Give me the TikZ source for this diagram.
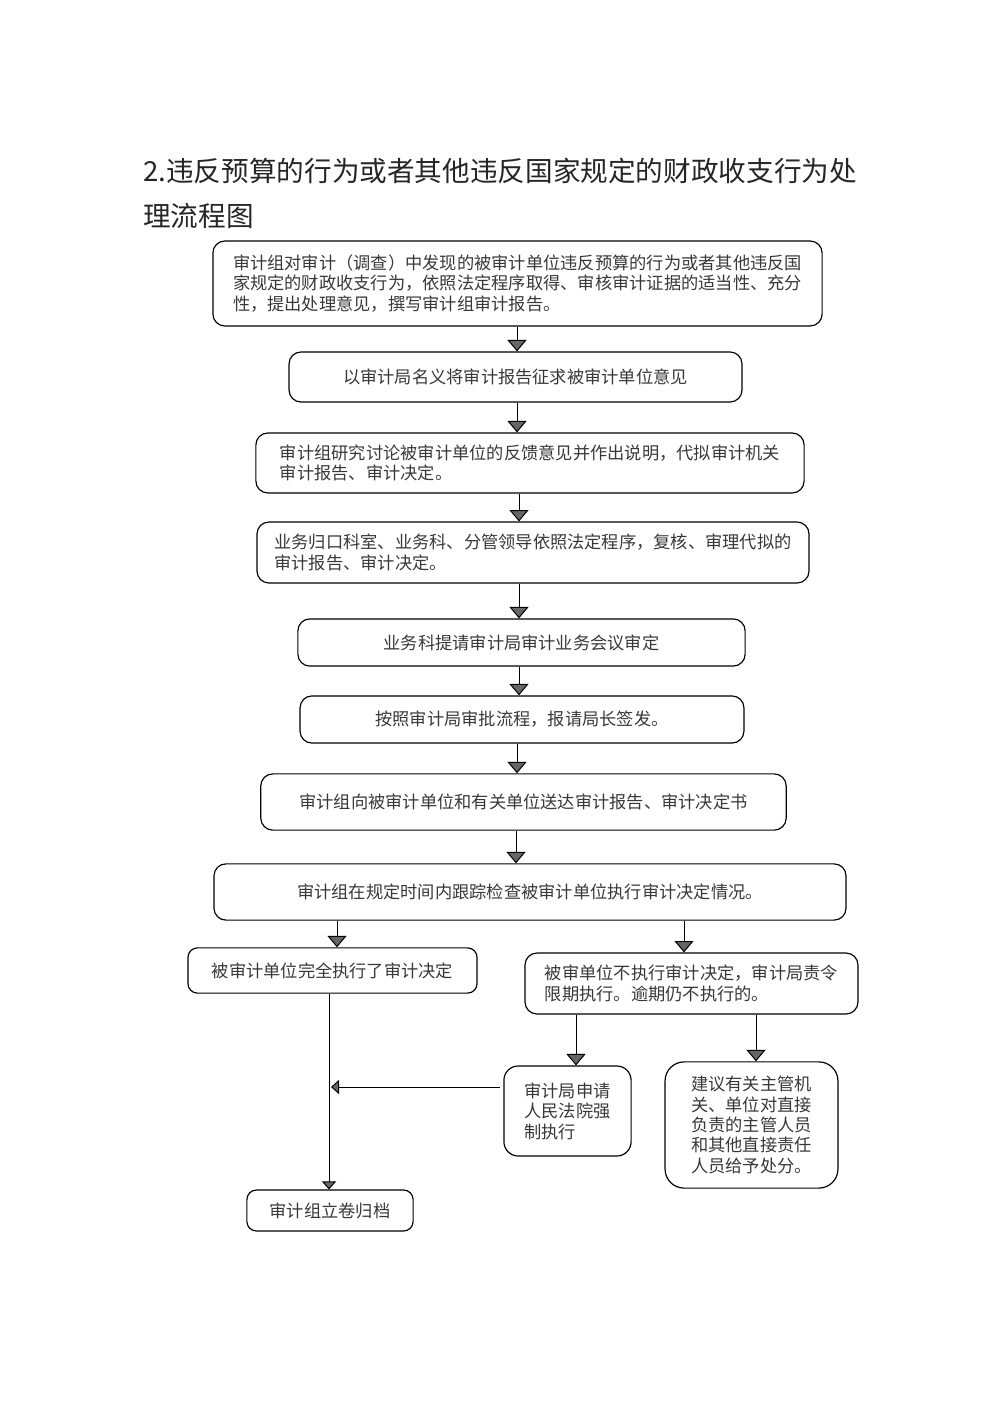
\documentclass[tikz,border=0pt]{standalone}
\usepackage{fontspec}
\setmainfont{Noto Sans CJK SC}
\usetikzlibrary{arrows.meta}
\begin{document}
\begin{tikzpicture}[x=0.021cm,y=-0.021cm,
    box/.style={draw,line width=0.7pt,rounded corners=2.5mm,align=left,
      inner sep=0pt,text=black!78,font=\fontsize{10.3}{12.2}\selectfont},
    arr/.style={line width=0.6pt,-{Triangle[width=4mm,length=2.4mm,fill=black!60]}},
    sarr/.style={line width=0.6pt,-{Triangle[width=3mm,length=1.7mm,fill=black!60]}}]
  \useasboundingbox (0,0) rectangle (1000,1414);
  \node[anchor=north west,align=left,inner sep=0pt,text=black!85,
    font=\fontsize{16.5}{26.8}\selectfont] (t) at (143,158)
    {2.违反预算的行为或者其他违反国家规定的财政收支行为处\\理流程图};
  \draw
    (517.5,283.5) node[box,minimum width=12.79cm,minimum height=1.785cm] (1)
      {审计组对审计（调查）中发现的被审计单位违反预算的行为或者其他违反国\\
       家规定的财政收支行为，依照法定程序取得、审核审计证据的适当性、充分\\
       性，提出处理意见，撰写审计组审计报告。}
    (515.5,377) node[box,minimum width=9.51cm,minimum height=1.05cm] (2)
      {以审计局名义将审计报告征求被审计单位意见}
    (530,463) node[box,minimum width=11.51cm,minimum height=1.26cm] (3)
      {审计组研究讨论被审计单位的反馈意见并作出说明，代拟审计机关\\
       审计报告、审计决定。}
    (533,552.5) node[box,minimum width=11.59cm,minimum height=1.28cm] (4)
      {业务归口科室、业务科、分管领导依照法定程序，复核、审理代拟的\\
       审计报告、审计决定。}
    (521.5,642.5) node[box,minimum width=9.39cm,minimum height=0.99cm] (5)
      {业务科提请审计局审计业务会议审定}
    (522,719.5) node[box,minimum width=9.32cm,minimum height=0.99cm] (6)
      {按照审计局审批流程，报请局长签发。}
    (523.5,802) node[box,minimum width=11.03cm,minimum height=1.18cm] (7)
      {审计组向被审计单位和有关单位送达审计报告、审计决定书}
    (530,892) node[box,minimum width=13.27cm,minimum height=1.18cm] (8)
      {审计组在规定时间内跟踪检查被审计单位执行审计决定情况。}
    (332.5,970.5) node[box,rounded corners=2mm,minimum width=6.07cm,minimum height=0.95cm] (9)
      {被审计单位完全执行了审计决定}
    (691.5,983.5) node[box,minimum width=6.99cm,minimum height=1.28cm] (10)
      {被审单位不执行审计决定，审计局责令\\限期执行。逾期仍不执行的。}
    (567.5,1111) node[box,rounded corners=3mm,minimum width=2.67cm,minimum height=1.89cm] (11)
      {审计局申请\\人民法院强\\制执行}
    (751.5,1125) node[box,rounded corners=4mm,minimum width=3.63cm,minimum height=2.65cm] (12)
      {建议有关主管机\\关、单位对直接\\负责的主管人员\\和其他直接责任\\人员给予处分。}
    (330,1210.5) node[box,rounded corners=2mm,minimum width=3.49cm,minimum height=0.86cm] (13)
      {审计组立卷归档};
  \coordinate (j) at (331,1087);
  \begin{scope}[arr]
    \draw (1.south -| 517,0) to (2.north -| 517,0);
    \draw (2.south -| 517,0) to (3.north -| 517,0);
    \draw (3.south -| 519,0) to (4.north -| 519,0);
    \draw (4.south -| 519,0) to (5.north -| 519,0);
    \draw (5.south -| 519,0) to (6.north -| 519,0);
    \draw (6.south -| 517,0) to (7.north -| 517,0);
    \draw (7.south -| 516,0) to (8.north -| 516,0);
    \draw (8.south -| 337,0) to (9.north -| 337,0);
    \draw (8.south -| 684,0) to (10.north -| 684,0);
    \draw (10.south -| 576,0) to (11.north -| 576,0);
    \draw (10.south -| 756,0) to (12.north -| 756,0);
  \end{scope}
  \begin{scope}[sarr]
    \draw (9.south -| 329,0) to (13.north -| 329,0);
    \draw ([xshift=-2]11.west |- j) to (j);
  \end{scope}
\end{tikzpicture}
\end{document}
